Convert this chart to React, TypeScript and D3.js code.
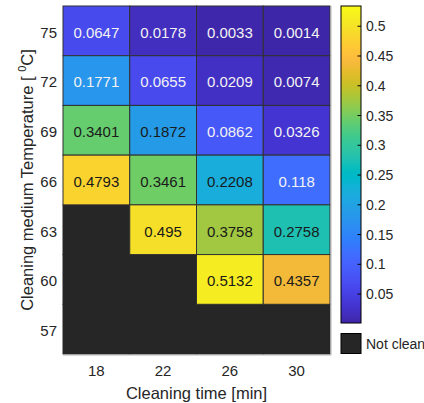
import React from 'react';
import * as d3 from 'd3';

// rows top to bottom, columns left to right; null = not clean
const temps = [75, 72, 69, 66, 63, 60, 57];
const times = [18, 22, 26, 30];
const values: (number | null)[][] = [
  [0.0647, 0.0178, 0.0033, 0.0014],
  [0.1771, 0.0655, 0.0209, 0.0074],
  [0.3401, 0.1872, 0.0862, 0.0326],
  [0.4793, 0.3461, 0.2208, 0.118],
  [null, 0.495, 0.3758, 0.2758],
  [null, null, 0.5132, 0.4357],
  [null, null, null, null],
];
const colorTicks = [0.05, 0.1, 0.15, 0.2, 0.25, 0.3, 0.35, 0.4, 0.45, 0.5];
const colorLimits = [0.0014, 0.534];

// matlab parula, 64 entries
const parulaRGB = [
  [0.2422, 0.1504, 0.6603], [0.2504, 0.1650, 0.7076], [0.2578, 0.1818, 0.7511], [0.2647, 0.1978, 0.7952],
  [0.2706, 0.2147, 0.8364], [0.2751, 0.2342, 0.8710], [0.2783, 0.2559, 0.8991], [0.2803, 0.2782, 0.9221],
  [0.2813, 0.3006, 0.9414], [0.2810, 0.3228, 0.9579], [0.2795, 0.3447, 0.9717], [0.2760, 0.3667, 0.9829],
  [0.2699, 0.3892, 0.9906], [0.2602, 0.4123, 0.9952], [0.2440, 0.4358, 0.9988], [0.2206, 0.4603, 0.9973],
  [0.1963, 0.4847, 0.9892], [0.1834, 0.5074, 0.9798], [0.1786, 0.5289, 0.9682], [0.1764, 0.5499, 0.9520],
  [0.1687, 0.5703, 0.9359], [0.1540, 0.5902, 0.9218], [0.1460, 0.6091, 0.9079], [0.1380, 0.6276, 0.8973],
  [0.1248, 0.6459, 0.8883], [0.1113, 0.6635, 0.8763], [0.0952, 0.6798, 0.8598], [0.0689, 0.6948, 0.8394],
  [0.0297, 0.7082, 0.8163], [0.0036, 0.7203, 0.7917], [0.0067, 0.7312, 0.7660], [0.0433, 0.7411, 0.7394],
  [0.0964, 0.7500, 0.7120], [0.1408, 0.7584, 0.6842], [0.1717, 0.7670, 0.6554], [0.1938, 0.7758, 0.6251],
  [0.2161, 0.7843, 0.5923], [0.2470, 0.7918, 0.5567], [0.2906, 0.7973, 0.5188], [0.3406, 0.8008, 0.4789],
  [0.3909, 0.8029, 0.4354], [0.4456, 0.8024, 0.3909], [0.5044, 0.7993, 0.3480], [0.5616, 0.7942, 0.3045],
  [0.6174, 0.7876, 0.2612], [0.6720, 0.7793, 0.2227], [0.7242, 0.7698, 0.1910], [0.7738, 0.7598, 0.1646],
  [0.8203, 0.7498, 0.1535], [0.8634, 0.7406, 0.1596], [0.9035, 0.7330, 0.1774], [0.9393, 0.7288, 0.2100],
  [0.9728, 0.7298, 0.2394], [0.9956, 0.7434, 0.2371], [0.9970, 0.7659, 0.2199], [0.9952, 0.7893, 0.2028],
  [0.9892, 0.8136, 0.1885], [0.9786, 0.8386, 0.1766], [0.9676, 0.8639, 0.1643], [0.9610, 0.8890, 0.1537],
  [0.9597, 0.9135, 0.1423], [0.9628, 0.9373, 0.1265], [0.9691, 0.9606, 0.1064], [0.9769, 0.9839, 0.0805],
];
const parula = parulaRGB.map(c => d3.rgb(c[0] * 255, c[1] * 255, c[2] * 255).formatHex());

const parulaInterp = d3.piecewise(d3.interpolateRgb, parula);
const color = d3.scaleSequential(parulaInterp).domain(colorLimits as [number, number]).clamp(true);

const font = 'Liberation Sans, Arial, Helvetica, sans-serif';

export default function App() {
  const W = 424, H = 403;
  const x = d3.scaleBand<number>().domain(times).range([63, 330]);
  const y = d3.scaleBand<number>().domain(temps).range([6, 354]);
  const cb = { x: 341, w: 20, top: 6, bottom: 323 };
  const cy = d3.scaleLinear().domain(colorLimits).range([cb.bottom, cb.top]);
  const stops = d3.range(0, 1.0001, 1 / 63);

  const cells = temps.flatMap((temp, r) => times.map((tm, c) => ({ temp, tm, v: values[r][c] })));

  return (
    <svg width={W} height={H} style={{ position: 'absolute', left: 0, top: 0 }} fontFamily={font}>
      <defs>
        <linearGradient id="cbar" x1="0" y1="1" x2="0" y2="0">
          {stops.map((t, i) => (
            <stop key={i} offset={t} stopColor={parulaInterp(t)} />
          ))}
        </linearGradient>
      </defs>
      <rect width={W} height={H} fill="#fff" />

      {/* not clean cells first, no inner lines */}
      {cells.filter(d => d.v == null).map(d => (
        <rect key={`n${d.temp}-${d.tm}`} x={x(d.tm)! - 0.5} y={y(d.temp)! - 0.5}
          width={x.bandwidth() + 1} height={y.bandwidth() + 1} fill="#262626" />
      ))}
      {cells.filter(d => d.v != null).map(d => (
        <rect key={`c${d.temp}-${d.tm}`} x={x(d.tm)} y={y(d.temp)} width={x.bandwidth()} height={y.bandwidth()}
          fill={color(d.v!)} stroke="#303030" strokeWidth={1} />
      ))}
      {cells.filter(d => d.v != null).map(d => (
        <text key={`t${d.temp}-${d.tm}`} x={x(d.tm)! + x.bandwidth() / 2} y={y(d.temp)! + y.bandwidth() / 2 + 6.8}
          textAnchor="middle" fontSize={15} fill={d.v! < 0.18 ? '#f2f2f2' : '#1a1a1a'}>
          {String(d.v)}
        </text>
      ))}
      <line x1={331} x2={331} y1={6} y2={355} stroke="#b4b4b4" />
      <line x1={63} x2={331} y1={355} y2={355} stroke="#b4b4b4" />

      {/* axes ticks */}
      {temps.map(t => (
        <text key={`yt${t}`} x={57} y={y(t)! + y.bandwidth() / 2 + 6.8} textAnchor="end" fontSize={15} fill="#262626">{t}</text>
      ))}
      {times.map(t => (
        <text key={`xt${t}`} x={x(t)! + x.bandwidth() / 2} y={375.7} textAnchor="middle" fontSize={15} fill="#262626">{t}</text>
      ))}
      <text x={196.5} y={398.5} textAnchor="middle" fontSize={16.5} fill="#262626">Cleaning time [min]</text>
      <text transform="translate(33,180) rotate(-90)" textAnchor="middle" fontSize={16.5} fill="#262626">
        Cleaning medium Temperature [ <tspan fontSize={11} dy={-7}>0</tspan><tspan dy={7}>C]</tspan>
      </text>

      {/* colorbar */}
      <rect x={cb.x} y={cb.top} width={cb.w} height={cb.bottom - cb.top} fill="url(#cbar)" stroke="#000" strokeWidth={1} />
      {colorTicks.map(t => (
        <g key={`ct${t}`}>
          <line x1={cb.x + cb.w - 3.5} x2={cb.x + cb.w} y1={cy(t)} y2={cy(t)} stroke="#000" />
          <text x={366} y={cy(t) + 5} fontSize={14} fill="#262626">{String(t)}</text>
        </g>
      ))}

      {/* not clean legend */}
      <rect x={cb.x} y={333.5} width={cb.w} height={20} fill="#262626" stroke="#000" />
      <text x={366} y={348.5} fontSize={14} fill="#262626">Not clean</text>
    </svg>
  );
}
